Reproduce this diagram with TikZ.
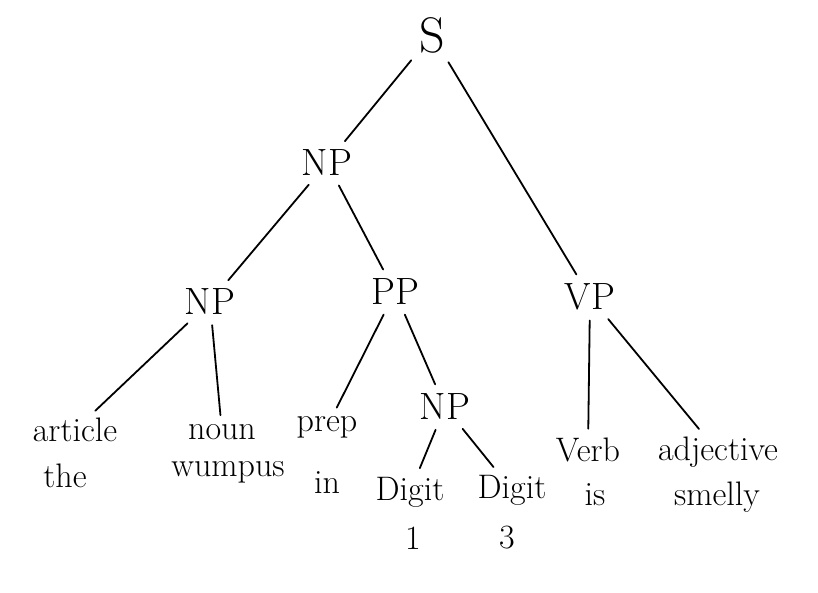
\documentclass[tikz,border=0pt]{standalone}
\usepackage{fontspec}
\tikzset{
  cat/.style={font=\fontsize{38}{44}\selectfont,inner sep=4pt},
  word/.style={font=\fontsize{34}{40}\selectfont,inner sep=3pt},
  branch/.style={line width=1.8pt,line cap=round,shorten >=6pt,shorten <=6pt}
}
\begin{document}
\begin{tikzpicture}[x=1pt,y=-1pt]
    \useasboundingbox (0,0) rectangle (818,593);

    \node[cat,font=\fontsize{50}{56}\selectfont] (s) at (432,35) {S};
    \node[cat] (np) at (327,163) {NP};
    \node[cat] (npa) at (210,302) {NP};
    \node[cat] (pp) at (395,292) {PP};
    \node[cat] (vp) at (590,297) {VP};
    \node[cat] (npb) at (445,407) {NP};

    \node[word] (article) at (75,430) {article};
    \node[word] (the) at (65,476) {the};
    \node[word] (noun) at (222,432) {noun};
    \node[word] (wumpus) at (228,472) {wumpus};
    \node[word] (prep) at (327,427) {prep};
    \node[word] (in) at (327,483) {in};
    \node[word] (digita) at (410,492) {Digit};
    \node[word] (one) at (413,538) {1};
    \node[word] (digitb) at (512,490) {Digit};
    \node[word] (three) at (507,538) {3};
    \node[word] (verb) at (588,450) {Verb};
    \node[word] (is) at (595,495) {is};
    \node[word] (adj) at (718,452) {adjective};
    \node[word] (smelly) at (717,497) {smelly};

    \draw[branch] (s) -- (np);
    \draw[branch] (s) -- (vp);
    \draw[branch] (np) -- (npa);
    \draw[branch] (np) -- (pp);
    \draw[branch] (npa) -- (article);
    \draw[branch] (npa) -- (noun);
    \draw[branch] (pp) -- (prep);
    \draw[branch] (pp) -- (npb);
    \draw[branch] (npb) -- (digita);
    \draw[branch] (npb) -- (digitb);
    \draw[branch] (vp) -- (verb);
    \draw[branch] (vp) -- (adj);
  \end{tikzpicture}
\end{document}
